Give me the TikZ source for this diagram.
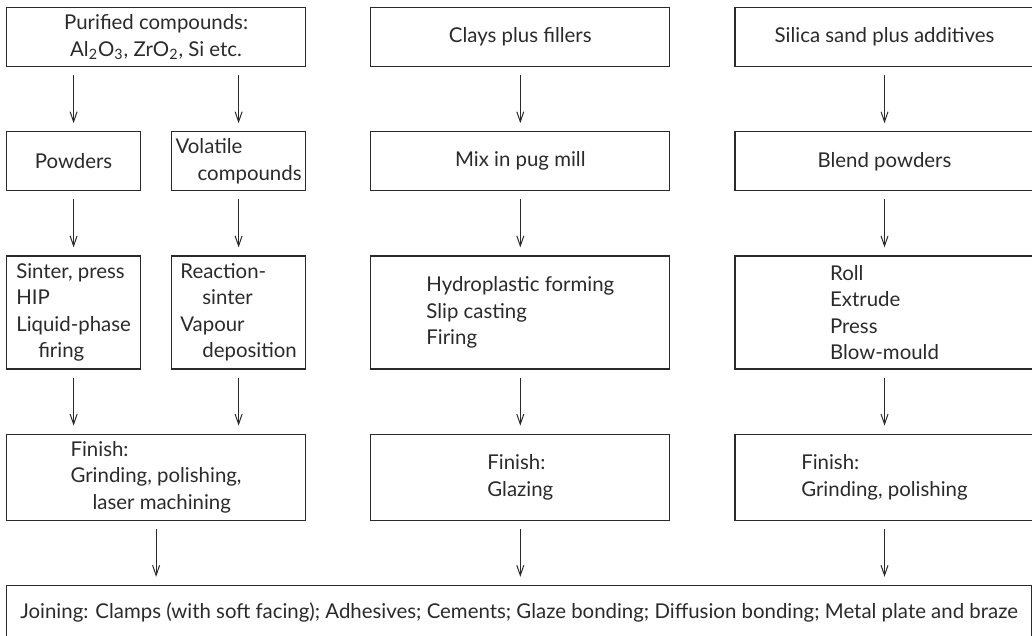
\documentclass[tikz,border=0pt]{standalone}
\usepackage{fontspec}
\setmainfont{Lato}
\usepackage{tikz}
\usetikzlibrary{arrows.meta,positioning}
\definecolor{ink}{HTML}{2A2A2A}
\newcommand{\flowfont}{\fontsize{10.2}{13.25}\selectfont}
\newcommand{\ind}{\hspace*{11pt}}

\begin{document}
\begin{tikzpicture}[
  node distance=32pt and 32pt,
  box/.style={draw=ink,line width=0.6pt,font=\flowfont,text=ink,align=left,inner sep=2pt,minimum width=149.5pt,minimum height=29.5pt},
  nbox/.style={box,minimum width=67pt},
  tall/.style={minimum height=56.5pt},
  fin/.style={minimum height=43pt},
  arr/.style={-{Straight Barb[length=5pt,width=3.5pt]},ink,line width=0.5pt,shorten <=4pt,shorten >=4pt}]
  \useasboundingbox (-3pt,3.5pt) rectangle (513pt,-314.5pt);
  % sources
  \node[box,align=center,anchor=north west] (pure) at (0,0) {Purified compounds:\\Al\textsubscript{2}O\textsubscript{3}, ZrO\textsubscript{2}, Si etc.};
  \node[box,right=of pure] (clay) {Clays plus fillers};
  \node[box,right=of clay] (silica) {Silica sand plus additives};
  % preparation
  \node[nbox,below=of pure.south west,anchor=north west] (powder) {Powders};
  \node[nbox,below=of pure.south east,anchor=north east] (volatile) {Volatile\\\ind compounds};
  \node[box,below=of clay] (pug) {Mix in pug mill};
  \node[box,below=of silica] (blend) {Blend powders};
  % forming
  \node[nbox,tall,below=of powder] (sinter) {Sinter, press\\HIP\\Liquid-phase\\\ind firing};
  \node[nbox,tall,below=of volatile] (reaction) {Reaction-\\\ind sinter\\Vapour\\\ind deposition};
  \node[box,tall,below=of pug] (forming) {Hydroplastic forming\\Slip casting\\Firing};
  \node[box,tall,below=of blend] (shaping) {Roll\\Extrude\\Press\\Blow-mould};
  % finishing
  \node[box,fin,below=of sinter.south west,anchor=north west] (finA) {Finish:\\Grinding, polishing,\\\ind laser machining};
  \node[box,fin,below=of forming] (finB) {Finish:\\Glazing};
  \node[box,fin,below=of shaping] (finC) {Finish:\\Grinding, polishing};
  \node[box,minimum width=512.5pt,minimum height=27pt,below=of finA.south west,anchor=north west] (joining) {Joining: Clamps (with soft facing); Adhesives; Cements; Glaze bonding; Diffusion bonding; Metal plate and braze};
  \draw[arr] (powder.north |- pure.south) -- (powder.north);
  \draw[arr] (volatile.north |- pure.south) -- (volatile.north);
  \draw[arr] (clay) -- (pug); \draw[arr] (silica) -- (blend);
  \draw[arr] (powder) -- (sinter); \draw[arr] (volatile) -- (reaction);
  \draw[arr] (pug) -- (forming); \draw[arr] (blend) -- (shaping);
  \draw[arr] (sinter.south) -- (sinter.south |- finA.north);
  \draw[arr] (reaction.south) -- (reaction.south |- finA.north);
  \draw[arr] (forming) -- (finB); \draw[arr] (shaping) -- (finC);
  \draw[arr] (finA.south) -- (finA.south |- joining.north);
  \draw[arr] (finB.south) -- (finB.south |- joining.north);
  \draw[arr] (finC.south) -- (finC.south |- joining.north);
\end{tikzpicture}
\end{document}
